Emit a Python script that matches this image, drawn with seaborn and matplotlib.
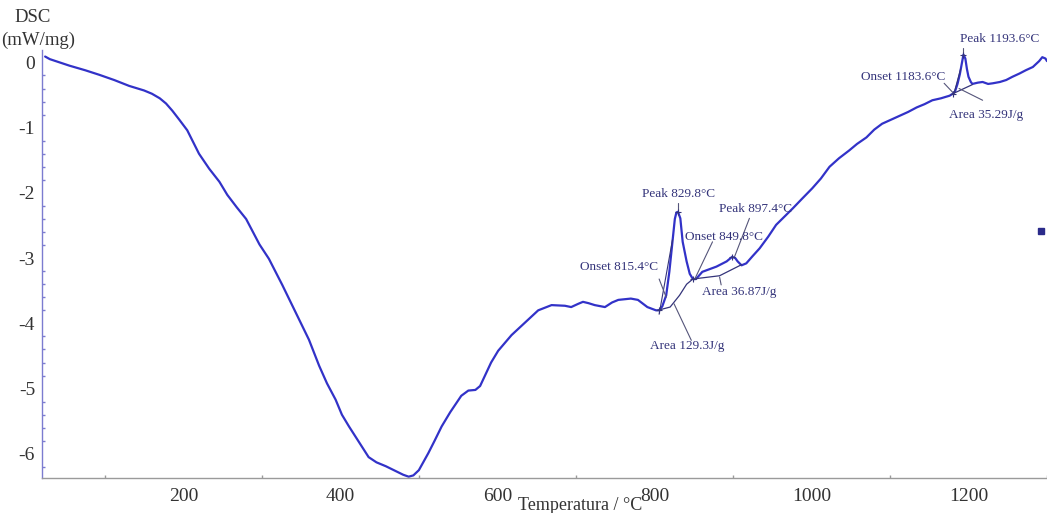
import matplotlib
matplotlib.use("Agg")
import matplotlib.pyplot as plt
from matplotlib.ticker import MultipleLocator
import numpy as np
import pandas as pd
import seaborn as sns

# DSC heating curve (temperature in °C, heat flow in mW/mg)
temperature = [
    24, 30, 45, 55, 75, 93, 112, 131, 150, 160, 170, 178, 186, 195, 205, 220,
    233, 246, 256, 268, 280, 297, 309, 326, 343, 360, 373, 383, 394, 402, 411,
    420, 436, 446, 458, 470, 480, 487, 493, 500, 512, 520, 529, 540, 554, 563,
    572, 578, 585, 592, 601, 618, 636, 652, 669, 686, 694, 703, 709, 716, 724,
    737, 746, 754, 770, 779, 791, 802, 806, 810, 815, 819, 823, 826, 828, 830,
    833, 836, 841, 845, 849, 853, 861, 870, 879, 892, 899, 903, 906, 911, 917,
    925, 934, 945, 955, 966, 976, 988, 1001, 1012, 1023, 1035, 1048, 1058,
    1070, 1080, 1090, 1101, 1112, 1123, 1134, 1144, 1154, 1165, 1176, 1180,
    1183, 1186, 1189, 1191, 1193.6, 1196, 1198, 1200, 1203, 1205, 1212, 1218,
    1225, 1231, 1240, 1248, 1256, 1265, 1273, 1282, 1290, 1294, 1298, 1300,
]
dsc = [
    0.09, 0.05, -0.01, -0.05, -0.12, -0.19, -0.27, -0.36, -0.43, -0.48, -0.55,
    -0.63, -0.74, -0.88, -1.04, -1.40, -1.63, -1.83, -2.03, -2.22, -2.40,
    -2.79, -3.01, -3.41, -3.83, -4.25, -4.65, -4.92, -5.17, -5.40, -5.58,
    -5.75, -6.05, -6.13, -6.19, -6.26, -6.32, -6.35, -6.33, -6.25, -5.99,
    -5.80, -5.58, -5.36, -5.11, -5.03, -5.02, -4.96, -4.78, -4.60, -4.42,
    -4.18, -3.98, -3.80, -3.72, -3.73, -3.75, -3.70, -3.67, -3.69, -3.72,
    -3.75, -3.68, -3.64, -3.62, -3.64, -3.75, -3.80, -3.80, -3.74, -3.57,
    -3.21, -2.75, -2.40, -2.30, -2.29, -2.39, -2.75, -3.05, -3.24, -3.32,
    -3.32, -3.21, -3.17, -3.13, -3.05, -2.98, -3.00, -3.05, -3.11, -3.08,
    -2.97, -2.85, -2.67, -2.49, -2.36, -2.24, -2.09, -1.93, -1.78, -1.60,
    -1.47, -1.35, -1.25, -1.15, -1.03, -0.94, -0.88, -0.82, -0.76, -0.69,
    -0.64, -0.58, -0.55, -0.51, -0.48, -0.44, -0.33, -0.18, -0.05, 0.12,
    0.06, -0.10, -0.22, -0.30, -0.33, -0.31, -0.30, -0.33, -0.32, -0.30,
    -0.27, -0.22, -0.17, -0.12, -0.07, 0.02, 0.08, 0.06, 0.02,
]

# Integration baselines under the three effects
base1_t = [804, 820, 832, 841, 849]
base1_y = [-3.80, -3.75, -3.57, -3.40, -3.32]
base2_t = [849, 883, 911]
base2_y = [-3.32, -3.27, -3.10]
base3_t = [1180, 1205]
base3_y = [-0.48, -0.34]

# Evaluation labels: text, text position, leader line (start -> end)
labels = [
    ("Onset 815.4°C", (755, -3.13), (806, -3.32), (815, -3.60)),
    ("Peak 829.8°C", (830.6, -2.01), (829.8, -2.16), (829.8, -2.30)),
    ("Area 129.3J/g", (842, -4.35), (825, -3.70), (847, -4.26)),
    ("Onset 849.8°C", (889, -2.67), (874, -2.75), (851, -3.33)),
    ("Peak 897.4°C", (929, -2.25), (921, -2.39), (902, -2.98)),
    ("Area 36.87J/g", (908, -3.52), (883, -3.29), (885, -3.41)),
    ("Peak 1193.6°C", (1240, 0.36), (1193.6, 0.22), (1193.6, 0.10)),
    ("Onset 1183.6°C", (1117, -0.23), (1169, -0.32), (1180, -0.46)),
    ("Area 35.29J/g", (1222, -0.80), (1218, -0.58), (1188, -0.40)),
]

sns.set_theme(style="white")
plt.rcParams["font.family"] = ["Liberation Serif", "DejaVu Serif"]
plt.rcParams["axes.unicode_minus"] = False

fig = plt.figure(figsize=(10.47, 5.13), dpi=100)
ax = fig.add_axes([0.0401, 0.0676, 0.9599, 0.8349])

curve_color = "#3232c8"
note_color = "#34347a"

df = pd.DataFrame({"Temperatura": temperature, "DSC": dsc})
sns.lineplot(data=df, x="Temperatura", y="DSC", ax=ax, color=curve_color,
             linewidth=1.6, sort=False, estimator=None)

for bt, by in [(base1_t, base1_y), (base2_t, base2_y), (base3_t, base3_y)]:
    ax.plot(bt, by, color=note_color, linewidth=0.9)

# tangents on the leading edges
ax.plot([806, 823], [-3.86, -2.72], color=note_color, linewidth=0.8)
ax.plot([1181, 1190], [-0.50, -0.10], color=note_color, linewidth=0.8)

for text, (tx, ty), (x0, y0), (x1, y1) in labels:
    ax.plot([x0, x1], [y0, y1], color="#55557a", linewidth=0.8, clip_on=False)
    ax.text(tx, ty, text, ha="center", va="center", fontsize=9.5,
            color=note_color, clip_on=False)

# onset/peak markers
ax.plot([806, 829.8, 849, 899, 1180, 1193.6],
        [-3.80, -2.29, -3.32, -2.98, -0.48, 0.12],
        linestyle="none", marker="+", markersize=4, color=note_color,
        markeredgewidth=0.8)

# instrument segment marker at the right edge
ax.plot([1292], [-2.58], linestyle="none", marker="s", markersize=4.5,
        color="#2a2a8a", clip_on=False)

ax.set_xlim(20, 1300)
ax.set_ylim(-6.375, 0.19)
ax.xaxis.set_major_locator(MultipleLocator(200))
ax.xaxis.set_minor_locator(MultipleLocator(100))
ax.yaxis.set_major_locator(MultipleLocator(1))
ax.yaxis.set_minor_locator(MultipleLocator(0.2))
ax.set_xticks([200, 400, 600, 800, 1000, 1200])
ax.set_xlabel("")
ax.set_ylabel("")

for side in ["top", "right"]:
    ax.spines[side].set_visible(False)
ax.spines["left"].set_color("#7c7cd0")
ax.spines["bottom"].set_color("#9a9a9a")
ax.spines["left"].set_linewidth(1.0)
ax.spines["bottom"].set_linewidth(1.0)

ax.tick_params(axis="both", which="both", direction="in", labelsize=14,
               labelcolor="#333333")
ax.tick_params(axis="y", which="major", length=4, color="#7c7cd0", pad=5)
ax.tick_params(axis="y", which="minor", length=2.5, color="#7c7cd0", left=True)
ax.tick_params(axis="x", which="major", length=4, color="#9a9a9a", pad=7)
ax.tick_params(axis="x", which="minor", length=2.5, color="#9a9a9a", bottom=True)
ax.yaxis.set_major_formatter(plt.FuncFormatter(lambda v, p: f"{int(round(v))}"))

fig.text(33 / 1047, 1 - 18 / 513, "DSC", ha="center", va="center",
         fontsize=13.5, color="#333333")
fig.text(38 / 1047, 1 - 40 / 513, "(mW/mg)", ha="center", va="center",
         fontsize=13.5, color="#333333")
fig.text(580 / 1047, 1 - 506 / 513, "Temperatura / °C", ha="center",
         va="center", fontsize=13, color="#333333")

fig.savefig("out.png", dpi=100)
